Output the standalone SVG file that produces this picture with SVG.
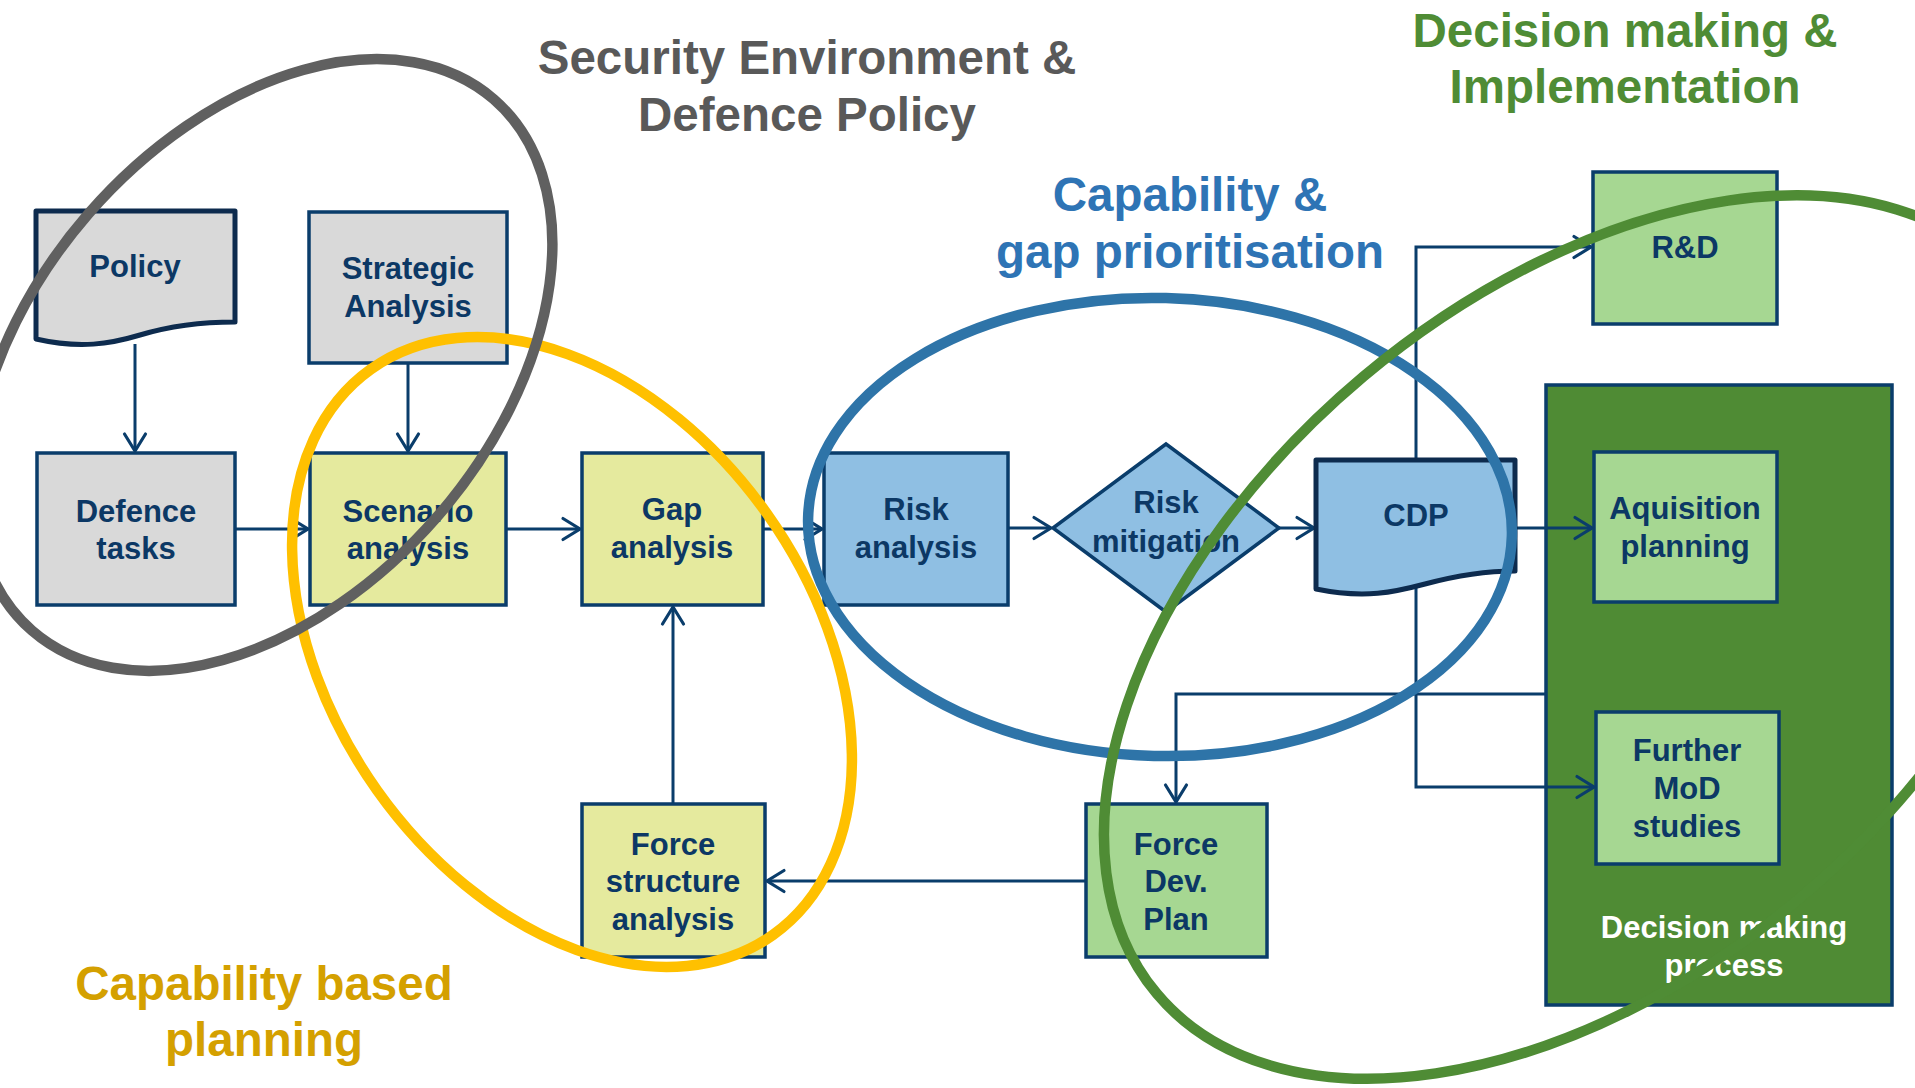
<svg xmlns="http://www.w3.org/2000/svg" width="1915" height="1088" viewBox="0 0 1915 1088">
  <style>
    text { font-family: "Liberation Sans", Arial, sans-serif; font-weight: bold; text-anchor: middle; }
    .lbl { font-size: 31px; fill: #0c3865; }
    .title { font-size: 47.5px; }
    .box { stroke: #0a3d6b; stroke-width: 3.5; }
    .doc { stroke: #0d2b4e; stroke-width: 5; stroke-linejoin: round; }
    .grey { fill: #d9d9d9; }
    .lime { fill: #e5ea9e; }
    .sky { fill: #8fbfe3; }
    .mint { fill: #a6d792; }
    .edge { fill: none; stroke: #0a3d6b; stroke-width: 3; }
    .ring { fill: none; stroke-width: 10.5; }
  </style>
  <defs>
    <marker id="arr" markerUnits="userSpaceOnUse" markerWidth="26" markerHeight="28" viewBox="-22 -14 26 28" refX="0" refY="0" orient="auto">
      <path d="M-17,-10.5 L0,0 L-17,10.5" fill="none" stroke="#0a3d6b" stroke-width="3.2" stroke-linecap="round"/>
    </marker>
  </defs>

  <rect width="1915" height="1088" fill="#ffffff"/>

  <!-- section headings -->
  <g id="headings" class="title">
    <text x="807" y="74" fill="#595959" class="title">Security Environment &amp;</text>
    <text x="807" y="131" fill="#595959" class="title">Defence Policy</text>
    <text x="1190" y="211" fill="#2e74b5" class="title">Capability &amp;</text>
    <text x="1190" y="268" fill="#2e74b5" class="title">gap prioritisation</text>
    <text x="1625" y="47" fill="#4f8c35" class="title">Decision making &amp;</text>
    <text x="1625" y="103" fill="#4f8c35" class="title">Implementation</text>
    <text x="264" y="1000" fill="#d4a000" class="title">Capability based</text>
    <text x="264" y="1056" fill="#d4a000" class="title">planning</text>
  </g>

  <!-- decision making container -->
  <g id="decision-process">
    <rect x="1546" y="385" width="346" height="620" fill="#4f8b34" class="box"/>
    <text x="1724" y="938" class="lbl" style="fill:#ffffff">Decision making</text>
    <text x="1724" y="976" class="lbl" style="fill:#ffffff">process</text>
  </g>

  <!-- connectors -->
  <g id="connectors" class="edge">
    <path class="edge" d="M135,344 V451" marker-end="url(#arr)"/>
    <path class="edge" d="M408,363 V451" marker-end="url(#arr)"/>
    <path class="edge" d="M235,529 H308" marker-end="url(#arr)"/>
    <path class="edge" d="M506,529 H580" marker-end="url(#arr)"/>
    <path class="edge" d="M763,529 H822" marker-end="url(#arr)"/>
    <path class="edge" d="M1008,528 H1051" marker-end="url(#arr)"/>
    <path class="edge" d="M1279,528 H1314" marker-end="url(#arr)"/>
    <path class="edge" d="M1515,528 H1592" marker-end="url(#arr)"/>
    <path class="edge" d="M1416,460 V247 H1591" marker-end="url(#arr)"/>
    <path class="edge" d="M1416,588 V787 H1594" marker-end="url(#arr)"/>
    <path class="edge" d="M1546,694 H1176 V802" marker-end="url(#arr)"/>
    <path class="edge" d="M1086,881 H767" marker-end="url(#arr)"/>
    <path class="edge" d="M673,804 V607" marker-end="url(#arr)"/>
  </g>

  <g id="policy">
    <path class="doc grey" d="M36,211 H235 V322 C200,322 170,326 140,335 C110,344 80,349 36,339 Z"/>
    <text x="135" y="277" class="lbl">Policy</text>
  </g>
  <g id="strategic-analysis">
    <rect x="309" y="212" width="198" height="151" class="box grey"/>
    <text x="408" y="279" class="lbl">Strategic</text>
    <text x="408" y="317" class="lbl">Analysis</text>
  </g>
  <g id="defence-tasks">
    <rect x="37" y="453" width="198" height="152" class="box grey"/>
    <text x="136" y="522" class="lbl">Defence</text>
    <text x="136" y="559" class="lbl">tasks</text>
  </g>
  <g id="scenario-analysis">
    <rect x="310" y="453" width="196" height="152" class="box lime"/>
    <text x="408" y="522" class="lbl">Scenario</text>
    <text x="408" y="559" class="lbl">analysis</text>
  </g>
  <g id="gap-analysis">
    <rect x="582" y="453" width="181" height="152" class="box lime"/>
    <text x="672" y="520" class="lbl">Gap</text>
    <text x="672" y="558" class="lbl">analysis</text>
  </g>
  <g id="force-structure-analysis">
    <rect x="582" y="804" width="183" height="153" class="box lime"/>
    <text x="673" y="855" class="lbl">Force</text>
    <text x="673" y="892" class="lbl">structure</text>
    <text x="673" y="930" class="lbl">analysis</text>
  </g>
  <g id="risk-analysis">
    <rect x="824" y="453" width="184" height="152" class="box sky"/>
    <text x="916" y="520" class="lbl">Risk</text>
    <text x="916" y="558" class="lbl">analysis</text>
  </g>
  <g id="risk-mitigation">
    <polygon points="1053,528 1166,444 1279,528 1166,612" class="box sky"/>
    <text x="1166" y="513" class="lbl">Risk</text>
    <text x="1166" y="552" class="lbl">mitigation</text>
  </g>
  <g id="cdp">
    <path class="doc sky" d="M1316,460 H1515 V571 C1485,571 1455,576 1425,584 C1395,592 1365,599 1316,589 Z"/>
    <text x="1416" y="526" class="lbl">CDP</text>
  </g>
  <g id="r-and-d">
    <rect x="1593" y="172" width="184" height="152" class="box mint"/>
    <text x="1685" y="258" class="lbl">R&amp;D</text>
  </g>
  <g id="aquisition-planning">
    <rect x="1594" y="452" width="183" height="150" class="box mint"/>
    <text x="1685" y="519" class="lbl">Aquisition</text>
    <text x="1685" y="557" class="lbl">planning</text>
  </g>
  <g id="further-mod-studies">
    <rect x="1596" y="712" width="183" height="152" class="box mint"/>
    <text x="1687" y="761" class="lbl">Further</text>
    <text x="1687" y="799" class="lbl">MoD</text>
    <text x="1687" y="837" class="lbl">studies</text>
  </g>
  <g id="force-dev-plan">
    <rect x="1086" y="804" width="181" height="153" class="box mint"/>
    <text x="1176" y="855" class="lbl">Force</text>
    <text x="1176" y="892" class="lbl">Dev.</text>
    <text x="1176" y="930" class="lbl">Plan</text>
  </g>

  <!-- grouping outlines -->
  <g id="groupings">
    <ellipse class="ring" cx="572" cy="652" rx="347" ry="239" transform="rotate(54.6 572 652)" stroke="#ffc000"/>
    <ellipse class="ring" cx="263" cy="365" rx="352" ry="231" transform="rotate(-49 263 365)" stroke="#606060"/>
    <ellipse class="ring" cx="1160" cy="527" rx="352" ry="229" transform="rotate(1.5 1160 527)" stroke="#2e74a8"/>
    <ellipse class="ring" cx="1582" cy="637" rx="555" ry="340" transform="rotate(-40 1582 637)" stroke="#4f8c35"/>
  </g>
</svg>
